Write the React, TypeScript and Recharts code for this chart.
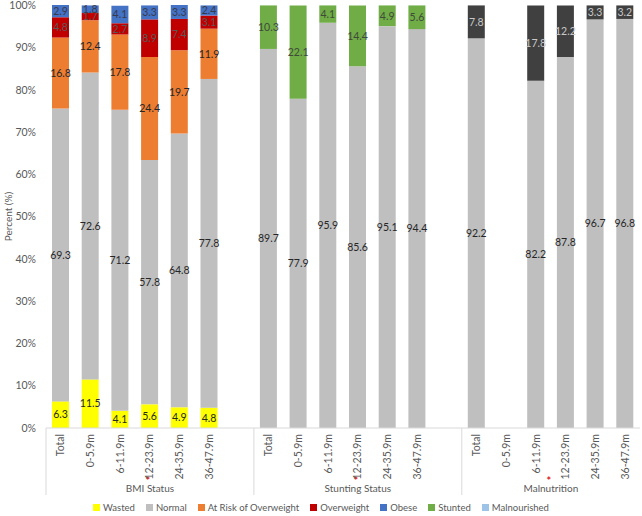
import React from 'react';
import { BarChart, Bar, XAxis, YAxis, LabelList } from 'recharts';

const groups = ['BMI Status', 'Stunting Status', 'Malnutrition'];
const ageBands = ['Total', '0-5.9m', '6-11.9m', '12-23.9m', '24-35.9m', '36-47.9m'];
const yTicks = [0, 10, 20, 30, 40, 50, 60, 70, 80, 90, 100];

// BMI status
const wasted = [6.3, 11.5, 4.1, 5.6, 4.9, 4.8];
const bmiNormal = [69.3, 72.6, 71.2, 57.8, 64.8, 77.8];
const atRisk = [16.8, 12.4, 17.8, 24.4, 19.7, 11.9];
const overweight = [4.8, 1.7, 2.7, 8.9, 7.4, 3.1];
const obese = [2.9, 1.8, 4.1, 3.3, 3.3, 2.4];

// Stunting status
const stuntNormal = [89.7, 77.9, 95.9, 85.6, 95.1, 94.4];
const stunted = [10.3, 22.1, 4.1, 14.4, 4.9, 5.6];

// Malnutrition
const malNormal = [92.2, null, 82.2, 87.8, 96.7, 96.8];
const malnourished = [7.8, null, 17.8, 12.2, 3.3, 3.2];

const series = [
  { key: 'wasted', name: 'Wasted', color: '#FFFF00', legend: '#FFFF00', label: '#262626' },
  { key: 'normal', name: 'Normal', color: '#BFBFBF', legend: '#BFBFBF', label: '#262626' },
  { key: 'atRisk', name: 'At Risk of Overweight', color: '#ED7D31', legend: '#ED7D31', label: '#262626' },
  { key: 'overweight', name: 'Overweight', color: '#C00000', legend: '#C00000', label: '#595959' },
  { key: 'obese', name: 'Obese', color: '#4472C4', legend: '#4472C4', label: '#3A3A4A' },
  { key: 'stunted', name: 'Stunted', color: '#70AD47', legend: '#70AD47', label: '#3F4A3A' },
  { key: 'malnourished', name: 'Malnourished', color: '#404040', legend: '#9DC3E6', label: '#C8C8C8' },
];

type Row = { id: string; label: string; group: number; [k: string]: any };

const rows: Row[] = [];
const groupStart: number[] = [];
const groupSpan: number[] = [];
groups.forEach((g, gi) => {
  groupStart.push(rows.length);
  ageBands.forEach((band, i) => {
    const row: Row = { id: `${gi}-${band}`, label: band, group: gi };
    if (gi === 0) {
      row.wasted = wasted[i];
      row.normal = bmiNormal[i];
      row.atRisk = atRisk[i];
      row.overweight = overweight[i];
      row.obese = obese[i];
    } else if (gi === 1) {
      row.normal = stuntNormal[i];
      row.stunted = stunted[i];
    } else {
      row.normal = malNormal[i];
      row.malnourished = malnourished[i];
    }
    rows.push(row);
  });
  if (gi < groups.length - 1) rows.push({ id: `gap-${gi}`, label: '', group: gi });
  groupSpan.push(rows.length - groupStart[gi]);
});

const CHART_W = 642;
const CHART_H = 498;
const MARGIN = { top: 5, right: 2, left: 0, bottom: 0 };
const YAXIS_W = 46;
const SLOT = (CHART_W - MARGIN.left - MARGIN.right - YAXIS_W) / rows.length;
const FONT = 'Lato, "Open Sans", sans-serif';
const TEXT = '#595959';

const CategoryTick = (props: any) => {
  const { x, y, index } = props;
  const row = rows[index];
  if (!row) return null;
  const gi = groupStart.indexOf(index);
  const mid = x - SLOT / 2 + (groupSpan[gi] * SLOT) / 2;
  return (
    <g>
      {row.label && (
        <text
          x={0}
          y={0}
          transform={`translate(${x + 3.5},${y + 6}) rotate(-90)`}
          textAnchor="end"
          fontSize={10.5}
          fontFamily={FONT}
          fill={TEXT}
        >
          {row.label}
        </text>
      )}
      {gi >= 0 && (
        <g>
          <line x1={x - SLOT / 2} x2={x - SLOT / 2} y1={y} y2={y + 67} stroke="#D9D9D9" />
          <text
            x={mid - 2}
            y={y + 57}
            textAnchor="middle"
            fontSize={11}
            fontWeight="bold"
            fill="#E02020"
            fontFamily={FONT}
          >
            *
          </text>
          <text
            x={mid}
            y={y + 64}
            textAnchor="middle"
            fontSize={10}
            fill={TEXT}
            fontFamily={FONT}
          >
            {groups[gi]}
          </text>
        </g>
      )}
    </g>
  );
};

const YLabel = (props: any) => {
  const { viewBox } = props;
  const cx = 8;
  const cy = viewBox.y + viewBox.height / 2;
  return (
    <text
      x={cx}
      y={cy}
      transform={`rotate(-90 ${cx} ${cy})`}
      textAnchor="middle"
      dominantBaseline="central"
      fontSize={10}
      fontFamily={FONT}
      fill={TEXT}
    >
      Percent (%)
    </text>
  );
};

const fmt = (v: any) => (v == null || v === 0 ? '' : Number(v).toFixed(1));

export default function App() {
  return (
    <div
      style={{
        position: 'absolute',
        left: 0,
        top: 0,
        width: CHART_W,
        height: 516,
        background: '#fff',
        fontFamily: FONT,
      }}
    >
      <BarChart width={CHART_W} height={CHART_H} data={rows} margin={MARGIN}>
        <XAxis
          dataKey="id"
          interval={0}
          height={70}
          tickLine={false}
          tickSize={0}
          tickMargin={0}
          axisLine={{ stroke: '#D9D9D9' }}
          tick={CategoryTick}
        />
        <YAxis
          width={YAXIS_W}
          domain={[0, 100]}
          ticks={yTicks}
          interval={0}
          axisLine={false}
          tickLine={false}
          tickSize={0}
          tickMargin={10}
          tick={{ fill: TEXT, fontSize: 10.5, fontFamily: FONT }}
          tickFormatter={(v) => `${v}%`}
          label={<YLabel />}
        />
        {series.map((s) => (
          <Bar
            key={s.key}
            dataKey={s.key}
            name={s.name}
            stackId="a"
            fill={s.color}
            barSize={17}
            isAnimationActive={false}
          >
            <LabelList
              dataKey={s.key}
              position="center"
              formatter={fmt}
              fill={s.label}
              fontSize={10.5}
              fontFamily={FONT}
            />
          </Bar>
        ))}
      </BarChart>
      <div
        style={{
          height: 18,
          display: 'flex',
          justifyContent: 'center',
          alignItems: 'center',
          gap: 11,
          fontSize: 9.5,
          color: TEXT,
          fontFamily: FONT,
        }}
      >
        {series.map((s) => (
          <div key={s.key} style={{ display: 'flex', alignItems: 'center', gap: 3 }}>
            <span style={{ width: 7, height: 7, background: s.legend, display: 'inline-block' }} />
            <span>{s.name}</span>
          </div>
        ))}
      </div>
    </div>
  );
}
